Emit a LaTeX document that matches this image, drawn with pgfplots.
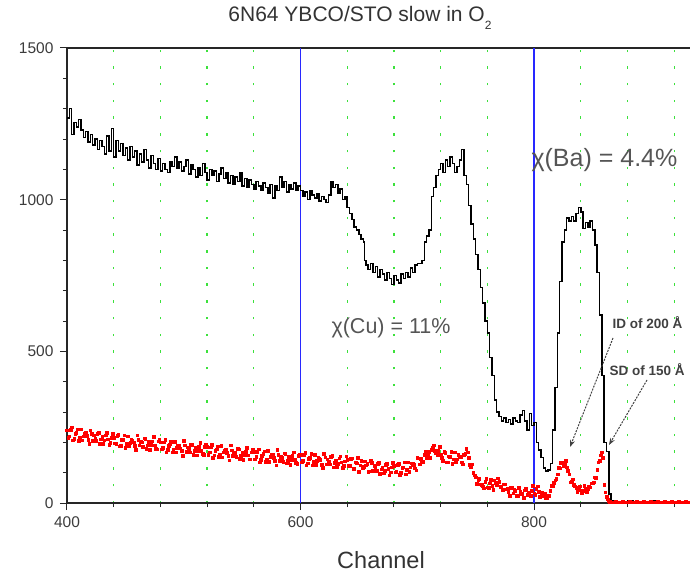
\documentclass[border=0pt]{standalone}
\usepackage{fontspec}
\setmainfont{Liberation Sans}
\usepackage{pgfplots}
\pgfplotsset{compat=1.18}
\usetikzlibrary{arrows.meta}
\definecolor{gridgreen}{RGB}{60,225,60}
\definecolor{annot}{RGB}{85,85,85}
\definecolor{ticklab}{RGB}{60,60,60}
\definecolor{vblue}{RGB}{40,40,255}
\begin{document}
\begin{tikzpicture}[x=1pt,y=1pt]
\useasboundingbox (-67,-71) rectangle (623,503);
\begin{axis}[
  at={(0,0)}, anchor=south west,
  width=627pt, height=455pt, scale only axis,
  xmin=400, xmax=937, ymin=0, ymax=1500,
  xtick={400,600,800}, ytick={0,500,1000,1500},
  minor xtick={440,480,520,560,640,680,720,760,840,880,920},
  minor ytick={100,200,300,400,600,700,800,900,1100,1200,1300,1400},
  xtick pos=bottom, ytick pos=left,
  tick align=outside, major tick length=7pt, minor tick length=4pt,
  xminorgrids=true,
  minor x grid style={gridgreen, line width=1.3pt, dash pattern=on 2.5pt off 14.2pt},
  axis line style={black!85, line width=1.2pt},
  every tick/.style={black!85, line width=1pt},
  tick label style={font=\fontsize{15.5}{18}\selectfont, text=ticklab},
  /pgf/number format/assume math mode=true,
  /pgf/number format/1000 sep={},
  xticklabel style={yshift=-3pt},
  yticklabel style={xshift=-3pt},
  clip=true,
]
\addplot[vblue, line width=1.5pt] coordinates {(600,0) (600,1500)};
\addplot[vblue, line width=1.5pt] coordinates {(800,0) (800,1500)};
\addplot[black, line width=1.5pt, const plot] coordinates {
(400,1270)(402,1300)(404,1215)(406,1255)(408,1240)(410,1265)(412,1230)(414,1205)(416,1225)(418,1190)(420,1215)(422,1180)(424,1200)(426,1165)(428,1195)(430,1175)(432,1150)(434,1210)(436,1160)(438,1235)(440,1140)(442,1195)(444,1160)(446,1185)(448,1145)(450,1170)(452,1130)(454,1175)(456,1140)(458,1160)(460,1115)(462,1150)(464,1125)(466,1165)(468,1130)(470,1105)(472,1145)(474,1120)(476,1100)(478,1135)(480,1095)(482,1120)(484,1100)(486,1090)(488,1125)(490,1110)(492,1140)(494,1105)(496,1125)(498,1095)(500,1110)(502,1130)(504,1085)(506,1115)(508,1100)(510,1075)(512,1105)(514,1080)(516,1120)(518,1090)(520,1065)(522,1100)(524,1080)(526,1095)(528,1060)(530,1085)(532,1105)(534,1070)(536,1090)(538,1055)(540,1080)(542,1050)(544,1075)(546,1060)(548,1090)(550,1045)(552,1070)(554,1040)(556,1065)(558,1050)(560,1035)(562,1060)(564,1045)(566,1030)(568,1055)(570,1040)(572,1020)(574,1050)(576,1005)(578,1045)(580,1030)(582,1075)(584,1040)(586,1060)(588,1025)(590,1050)(592,1035)(594,1055)(596,1030)(598,1045)(600,1030)(602,1010)(604,1025)(606,1000)(608,1030)(610,1015)(612,1005)(614,1020)(616,995)(618,1010)(620,1000)(622,990)(624,1015)(626,1060)(628,1040)(630,1050)(632,1020)(634,1035)(636,1000)(638,1010)(640,975)(642,955)(644,935)(646,910)(648,900)(650,885)(652,870)(654,860)(655,800)(656,785)(658,770)(660,790)(662,760)(664,780)(666,745)(668,770)(670,755)(672,735)(674,760)(676,740)(678,720)(680,750)(682,735)(684,725)(686,755)(688,740)(690,760)(692,745)(694,775)(696,760)(698,785)(700,790)(702,790)(704,800)(706,860)(708,880)(710,900)(712,1010)(714,1040)(716,1080)(718,1100)(720,1120)(722,1090)(724,1130)(726,1110)(728,1140)(730,1120)(732,1090)(734,1110)(736,1130)(738,1165)(740,1080)(742,1050)(744,980)(746,920)(748,870)(750,820)(752,770)(754,710)(756,660)(758,600)(760,560)(762,480)(764,420)(766,340)(768,300)(770,285)(772,270)(774,280)(776,265)(778,275)(780,260)(782,280)(784,270)(786,265)(788,290)(790,305)(792,270)(794,240)(796,295)(798,255)(800,265)(802,200)(804,175)(806,150)(808,115)(810,105)(812,108)(814,130)(816,240)(818,380)(820,560)(822,730)(824,860)(826,900)(828,940)(830,930)(832,945)(834,930)(836,955)(838,975)(840,960)(842,905)(844,925)(846,910)(848,930)(850,900)(852,850)(854,760)(856,620)(858,420)(860,200)(862,170)(864,30)(866,8)(870,5)(875,4)(880,6)(885,3)(890,5)(895,4)(900,6)(905,3)(910,5)(915,4)(920,5)(925,3)(930,4)(937,4)
};
\addplot[only marks, red, mark=square*, mark size=1.3pt] coordinates {
(400,240)(402,220)(404,250)(406,212)(408,232)(410,205)(412,243)(414,220)(416,231)(418,208)(420,240)(422,205)(424,214)(426,228)(428,195)(430,218)(432,207)(434,232)(436,193)(438,215)(440,215)(442,195)(444,225)(446,188)(448,208)(450,183)(452,220)(454,199)(456,207)(458,188)(460,224)(462,190)(464,200)(466,214)(468,180)(470,203)(472,193)(474,218)(476,180)(478,204)(480,200)(482,182)(484,208)(486,175)(488,194)(490,168)(492,203)(494,183)(496,190)(498,172)(500,205)(502,170)(504,180)(506,193)(508,160)(510,182)(512,172)(514,198)(516,162)(518,186)(520,185)(522,167)(524,193)(526,158)(528,178)(530,152)(532,189)(534,168)(536,176)(538,155)(540,190)(542,155)(544,165)(546,179)(548,146)(550,168)(552,158)(554,182)(556,145)(558,168)(560,170)(562,152)(564,178)(566,143)(568,162)(570,136)(572,173)(574,153)(576,160)(578,140)(580,175)(582,140)(584,150)(586,164)(588,131)(590,153)(592,143)(594,168)(596,133)(598,156)(600,160)(602,140)(604,166)(606,131)(608,150)(610,124)(612,160)(614,140)(616,146)(618,126)(620,162)(622,128)(624,138)(626,152)(628,118)(630,140)(632,130)(634,154)(636,116)(638,138)(640,142)(642,122)(644,148)(646,113)(648,131)(650,104)(652,140)(654,120)(656,125)(658,104)(660,140)(662,106)(664,116)(666,130)(668,96)(670,118)(672,107)(674,130)(676,92)(678,118)(680,122)(682,104)(684,130)(686,100)(688,118)(690,95)(692,135)(694,118)(696,130)(698,115)(700,150)(702,128)(704,138)(706,160)(708,150)(710,170)(712,175)(714,190)(716,165)(718,172)(720,160)(722,140)(724,165)(726,135)(728,152)(730,130)(732,168)(734,145)(736,152)(738,135)(740,160)(742,180)(744,150)(746,120)(748,100)(750,85)(752,75)(754,62)(756,55)(758,70)(760,52)(762,65)(764,58)(766,75)(768,60)(770,70)(772,55)(774,62)(776,45)(778,38)(780,50)(782,32)(784,40)(786,25)(788,38)(790,30)(792,42)(794,28)(796,35)(798,40)(800,32)(802,48)(804,38)(806,30)(808,22)(810,18)(812,25)(814,40)(816,55)(818,75)(820,95)(822,115)(824,135)(826,128)(828,118)(830,95)(832,72)(834,60)(836,50)(838,45)(840,42)(842,40)(844,45)(846,48)(848,52)(850,65)(852,85)(854,110)(856,140)(858,168)(859,150)(860,60)(862,20)(864,6)(867,3)(870,4)(873,3)(876,5)(879,3)(882,4)(885,3)(888,5)(891,3)(894,4)(897,3)(900,5)(903,3)(906,4)(909,3)(912,5)(915,3)(918,4)(921,3)(924,5)(927,3)(930,4)(933,3)(936,4)
};
\addplot[only marks, red, mark=square*, mark size=1.3pt] coordinates {
(401,216)(403,241)(405,207)(407,228)(409,243)(411,216)(413,207)(415,230)(417,221)(419,196)(421,229)(423,223)(425,206)(427,232)(429,210)(431,196)(433,224)(435,211)(437,198)(439,229)(441,197)(443,221)(445,187)(447,208)(449,223)(451,196)(453,187)(455,210)(457,201)(459,176)(461,209)(463,203)(465,186)(467,212)(469,190)(471,176)(473,204)(475,191)(477,178)(479,209)(481,177)(483,201)(485,167)(487,188)(489,203)(491,176)(493,167)(495,190)(497,181)(499,156)(501,190)(503,184)(505,167)(507,193)(509,172)(511,158)(513,186)(515,173)(517,160)(519,192)(521,160)(523,184)(525,150)(527,172)(529,187)(531,160)(533,151)(535,174)(537,166)(539,141)(541,174)(543,168)(545,152)(547,178)(549,156)(551,142)(553,170)(555,158)(557,145)(559,176)(561,144)(563,169)(565,135)(567,156)(569,171)(571,144)(573,136)(575,159)(577,150)(579,125)(581,159)(583,153)(585,136)(587,162)(589,140)(591,127)(593,155)(595,142)(597,129)(599,161)(601,135)(603,159)(605,125)(607,147)(609,162)(611,136)(613,127)(615,150)(617,142)(619,117)(621,151)(623,145)(625,128)(627,155)(629,133)(631,120)(633,148)(635,135)(637,123)(639,154)(641,123)(643,147)(645,113)(647,135)(649,150)(651,124)(653,115)(655,138)(657,130)(659,105)(661,132)(663,122)(665,106)(667,133)(669,111)(671,98)(673,126)(675,114)(677,101)(679,133)(681,102)(683,127)(685,94)(687,117)(689,134)(691,110)(693,104)(695,131)(697,127)(699,108)(701,148)(703,147)(705,136)(707,170)(709,155)(711,149)(713,183)(715,173)(717,159)(719,186)(721,150)(723,170)(725,134)(727,154)(729,170)(731,144)(733,136)(735,160)(737,152)(739,128)(741,162)(743,167)(745,126)(747,128)(749,92)(751,64)(753,81)(755,61)(757,49)(759,81)(761,50)(763,77)(765,44)(767,66)(769,82)(771,54)(773,44)(775,62)(777,47)(779,25)(781,52)(783,44)(785,24)(787,50)(789,29)(791,17)(793,47)(795,36)(797,25)(799,58)(801,28)(803,55)(805,20)(807,34)(809,30)(811,16)(813,25)(815,58)(817,67)(819,80)(821,117)(823,132)(825,123)(827,140)(829,107)(831,69)(833,78)(835,56)(837,37)(839,55)(841,32)(843,57)(845,35)(847,54)(849,65)(851,69)(853,84)(855,135)(857,157)(861,35)(863,12)(865,5)
};
\end{axis}
\node[font=\fontsize{21}{24}\selectfont, text=black!80] at (293,485) {6N64 YBCO/STO slow in O\raisebox{-0.4em}{\fontsize{12}{12}\selectfont 2}};
\node[font=\fontsize{23.5}{26}\selectfont, text=black!80] at (314,-57) {Channel};
\node[anchor=west, font=\fontsize{25}{28}\selectfont, text=annot] at (461,343) {χ(Ba) = 4.4\%};
\node[anchor=west, font=\fontsize{21.5}{24}\selectfont, text=annot] at (261,175) {χ(Cu) = 11\%};
\node[anchor=west, font=\bfseries\fontsize{13.5}{16}\selectfont, text=black!75] at (542,180) {ID of 200 Å};
\node[anchor=west, font=\bfseries\fontsize{13.5}{16}\selectfont, text=black!75] at (539,133) {SD of 150 Å};
\draw[black!75, line width=1pt, dash pattern=on 2pt off 1.2pt, -{Stealth[length=7pt,width=5pt]}] (546,165) -- (503,56);
\draw[black!75, line width=1pt, dash pattern=on 2pt off 1.2pt, -{Stealth[length=7pt,width=5pt]}] (580,123) -- (542,58);
\end{tikzpicture}
\end{document}
